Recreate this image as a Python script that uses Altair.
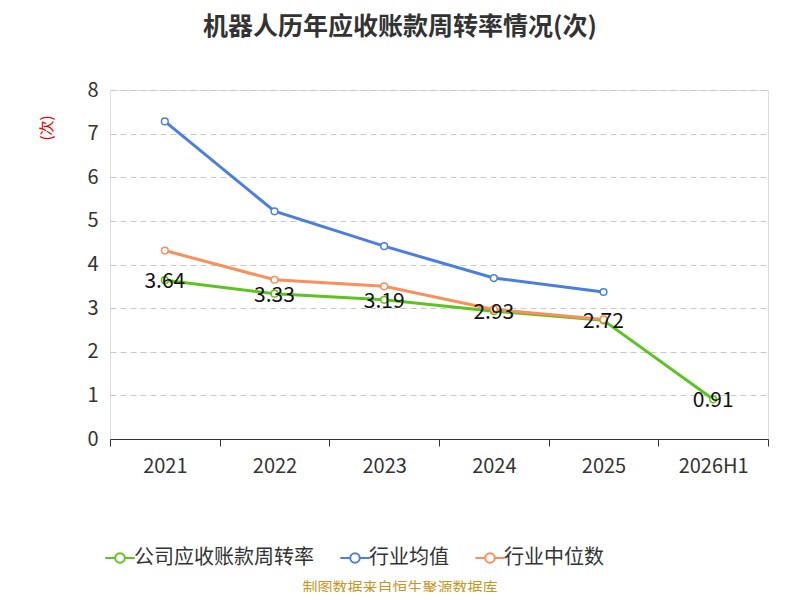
import altair as alt
import pandas as pd

years = ["2021", "2022", "2023", "2024", "2025", "2026H1"]
company = [3.64, 3.33, 3.19, 2.93, 2.72, 0.91]
ind_avg = [7.28, 5.22, 4.42, 3.69, 3.37, None]
ind_med = [4.32, 3.65, 3.50, 2.97, 2.74, None]
series = ["公司应收账款周转率", "行业均值", "行业中位数"]
colors = ["#5cc31f", "#4a7fe0", "#f98f5a"]

rows = []
for name, vals in zip(series, [company, ind_avg, ind_med]):
    for y, v in zip(years, vals):
        if v is not None:
            rows.append({"year": y, "value": v, "series": name})
df = pd.DataFrame(rows)
comp_df = pd.DataFrame({"year": years, "value": company})

sym = "M-1.7,0 L-0.55,0 M0.55,0 L1.7,0 M-0.55,0 A0.55,0.55 0 1,1 0.55,0 A0.55,0.55 0 1,1 -0.55,0"

x = alt.X("year:N", sort=years, scale=alt.Scale(type="band", paddingInner=0, paddingOuter=0),
          axis=alt.Axis(title=None, labelFontSize=20, labelColor="#333", labelPadding=10,
                        tickBand="extent", tickSize=7, domainColor="#333", tickColor="#333",
                        labelAngle=0, grid=False))
y = alt.Y("value:Q", scale=alt.Scale(domain=[0, 8]),
          axis=alt.Axis(title=None, labelFontSize=20, labelColor="#333", tickCount=8, grid=True,
                        gridDash=[6, 4], gridColor="#c8c8c8", domain=False, ticks=False, labelPadding=12))
scale = alt.Scale(domain=series, range=colors)
color = alt.Color("series:N", sort=series, scale=scale,
                  legend=alt.Legend(title=None, orient="bottom", direction="horizontal", symbolType=sym,
                                    symbolSize=300, symbolStrokeWidth=2, labelFontSize=20, labelColor="#333",
                                    offset=72, columnPadding=22, labelLimit=0, symbolFillColor="white"))

lines = alt.Chart(df).mark_line(strokeWidth=3).encode(x=x, y=y, color=color)
pts = alt.Chart(df).mark_point(filled=False, fill="white", size=45, strokeWidth=1.5, opacity=1).encode(
    x=x, y=y, color=color)
labels = alt.Chart(comp_df).mark_text(fontSize=21, color="#111", dy=2).encode(
    x=alt.X("year:N", sort=years), y="value:Q", text=alt.Text("value:Q", format=".2f"))
src = alt.Chart(pd.DataFrame({"t": ["制图数据来自恒生聚源数据库"]})).mark_text(
    fontSize=15, color="#c8961e").encode(x=alt.value(290), y=alt.value(498), text="t:N")
unit = alt.Chart(pd.DataFrame({"t": ["(次)"]})).mark_text(
    fontSize=15, color="#e00000", angle=270).encode(x=alt.value(-63), y=alt.value(38), text="t:N")

chart = alt.layer(lines, pts, labels, src, unit).properties(
    width=658, height=349,
    title=alt.TitleParams("机器人历年应收账款周转率情况(次)", fontSize=25, fontWeight="bold",
                          color="#333", anchor="middle", dx=-39, offset=40),
    padding={"left": 102, "top": 82, "right": 24, "bottom": 153},
    autosize=alt.AutoSizeParams(type="none"),
).configure_view(stroke=None).configure(font="Noto Sans CJK SC")

chart.save("out.html", embed_options={"renderer": "svg", "actions": False})
